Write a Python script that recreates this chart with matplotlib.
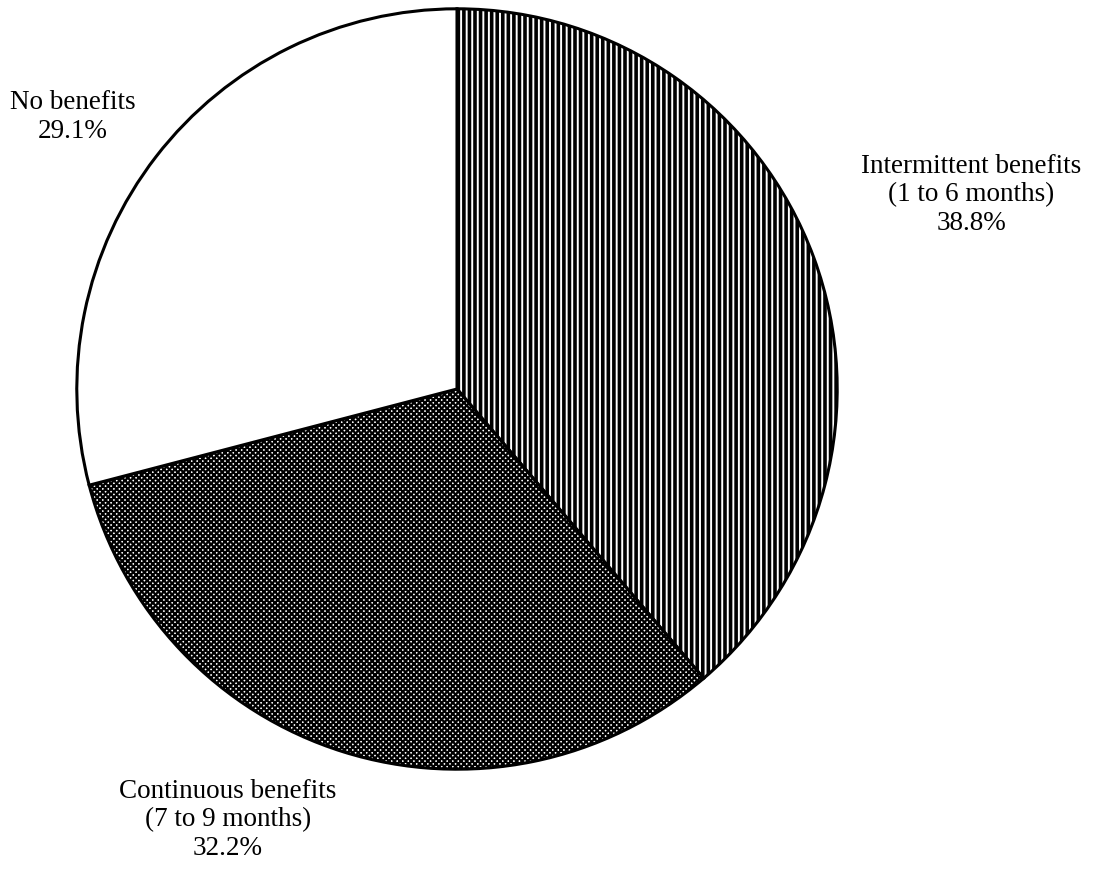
import matplotlib
matplotlib.use("Agg")
import matplotlib.pyplot as plt

# ---------------------------
# Data
# ---------------------------
labels = ['Intermittent benefits\n(1 to 6 months)',
          'Continuous benefits\n(7 to 9 months)',
          'No benefits']
shares = [38.8, 32.2, 29.1]
hatches = ['|||', 'xxxxxx', '']
hatch_lw = [2.6, 1.6, 1.0]

plt.rcParams['font.family'] = ['Liberation Serif', 'DejaVu Serif']
plt.rcParams['hatch.linewidth'] = 1.6

# ---------------------------
# Plot
# ---------------------------
fig = plt.figure(figsize=(10.95, 8.69), dpi=100)
ax = fig.add_axes([73 / 1095, 96 / 869, 768 / 1095, 768 / 869])

wedges, _ = ax.pie(shares, startangle=90, counterclock=False,
                   colors=['white'] * 3, normalize=True,
                   wedgeprops=dict(edgecolor='black', linewidth=2.2))
for w, h, lw in zip(wedges, hatches, hatch_lw):
    w.set_hatch(h)
    if hasattr(w, 'set_hatch_linewidth'):
        w.set_hatch_linewidth(lw)
ax.set_xlim(-1.01, 1.01)
ax.set_ylim(-1.01, 1.01)

# label positions (figure fraction)
label_pos = [(971 / 1095, 1 - 195 / 869),
             (228 / 1095, 1 - 820 / 869),
             (73 / 1095, 1 - 117 / 869)]
for lab, val, (x, y) in zip(labels, shares, label_pos):
    fig.text(x, y, f'{lab}\n{val:.1f}%', ha='center', va='center',
             fontsize=19.5, linespacing=1.2)

plt.savefig('out.png', dpi=100)
